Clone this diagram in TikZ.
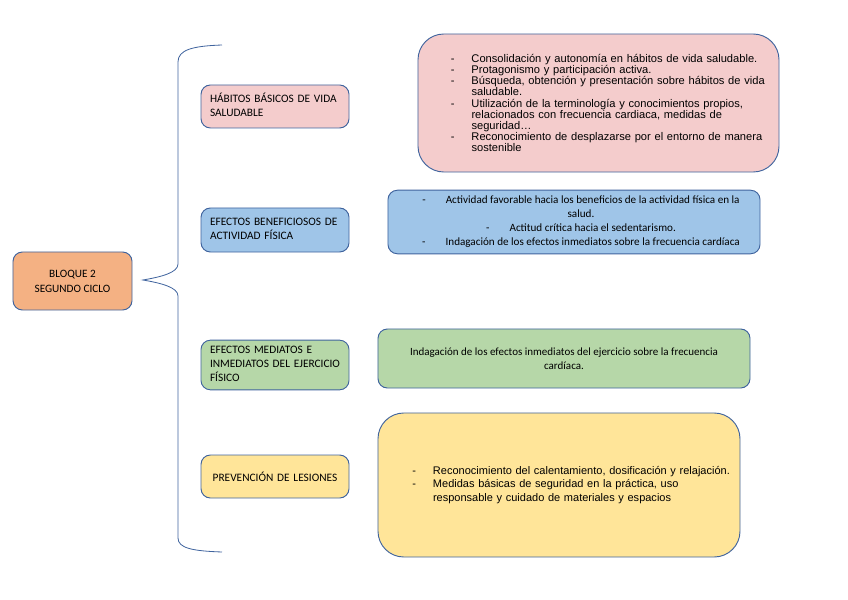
\documentclass[tikz,border=0pt]{standalone}
\usepackage{fontspec}
\setmainfont{Liberation Sans}
\newfontfamily\calibri{Carlito}
\usepackage{xcolor}
\usetikzlibrary{calc}
\definecolor{borde}{HTML}{40649E}
\definecolor{rosa}{HTML}{F4CCCC}
\definecolor{naranja}{HTML}{F4B183}
\definecolor{azul}{HTML}{9FC5E8}
\definecolor{verde}{HTML}{B6D7A8}
\definecolor{amarillo}{HTML}{FFE599}
\newcommand{\guion}{\makebox[0.62cm][l]{-}}
\newcommand{\sangria}{\makebox[0.62cm]{}}
\tikzset{
  caja/.style={draw=borde,line width=0.8pt,rounded corners=8pt},
  titulo/.style={caja,minimum width=4.44cm,align=left,text width=3.9cm,
    font=\calibri\fontsize{9.7}{11.9}\selectfont},
  lista/.style={caja,rounded corners=22pt,align=left,text width=10.5cm},
  llave/.style={draw=borde,line width=0.7pt}
}
\begin{document}
\begin{tikzpicture}[x=0.03cm,y=-0.03cm]
\useasboundingbox (0,0) rectangle (848,600);
% bloque principal
\node (bloque) at (72.5,281) [caja,fill=naranja,minimum width=3.57cm,minimum height=1.74cm,
  align=center,font=\calibri\fontsize{9.6}{12.8}\selectfont]{BLOQUE 2\\SEGUNDO CICLO};
% llave
\coordinate (punta) at (143,280);
\draw[llave] (222,45) .. controls (192,46) and (178,50) .. (178,62) -- (178,264)
  .. controls (178,273) and (160,277) .. (punta)
  .. controls (160,283) and (178,287) .. (178,296) -- (178,538)
  .. controls (178,548) and (192,551) .. (222,552);
% titulos
\node (habitos) at (275,106.5) [titulo,fill=rosa,minimum height=1.29cm]{\begin{tabular}{@{}l@{}}
H\'ABITOS B\'ASICOS DE VIDA\\SALUDABLE\end{tabular}};
\node (benef) at (275,230) [titulo,fill=azul,minimum height=1.32cm]{\begin{tabular}{@{}l@{}}
EFECTOS BENEFICIOSOS DE\\ACTIVIDAD F\'ISICA\end{tabular}};
\node (mediatos) at (275,365) [titulo,fill=verde,minimum height=1.44cm]{\begin{tabular}{@{}l@{}}
EFECTOS MEDIATOS E\\INMEDIATOS DEL EJERCICIO\\F\'ISICO\end{tabular}};
\node (lesiones) at (275,476.5) [titulo,fill=amarillo,minimum height=1.29cm,align=center]{PREVENCI\'ON DE LESIONES};
% contenidos
\node (cont1) at (598.5,103) [lista,fill=rosa,minimum width=10.83cm,minimum height=4.14cm,
  font=\fontsize{9.5}{9.45}\selectfont]{\lineskiplimit=-10pt\leftskip=0.82cm
\guion Consolidaci\'on y autonom\'ia en h\'abitos de vida saludable.\\
\guion Protagonismo y participaci\'on activa.\\
\guion B\'usqueda, obtenci\'on y presentaci\'on sobre h\'abitos de vida\\
\sangria saludable.\\
\guion Utilizaci\'on de la terminolog\'ia y conocimientos propios,\\
\sangria relacionados con frecuencia cardiaca, medidas de\\
\sangria seguridad\ldots\\
\guion Reconocimiento de desplazarse por el entorno de manera\\
\sangria sostenible\par};
\node (cont2) at (574,222) [caja,fill=azul,minimum width=11.16cm,minimum height=1.74cm,
  font=\calibri\fontsize{9.5}{11.9}\selectfont]{\raisebox{-0.06cm}{\begin{tabular}{@{\hspace{0.42cm}}c@{}}
-\hspace{0.6cm}Actividad favorable hacia los beneficios de la actividad f\'isica en la\\
salud.\\
-\hspace{0.6cm}Actitud cr\'itica hacia el sedentarismo.\\
-\hspace{0.6cm}Indagaci\'on de los efectos inmediatos sobre la frecuencia card\'iaca
\end{tabular}}};
\node (cont3) at (564,358.5) [caja,fill=verde,minimum width=11.16cm,minimum height=1.77cm,align=center,
  font=\calibri\fontsize{9.4}{11.9}\selectfont]{Indagaci\'on de los efectos inmediatos del ejercicio sobre la frecuencia\\card\'iaca.};
\node (cont4) at (559,485) [lista,fill=amarillo,minimum width=10.86cm,minimum height=4.32cm,
  font=\fontsize{9.4}{11.5}\selectfont]{\lineskiplimit=-10pt\leftskip=0.85cm
\guion Reconocimiento del calentamiento, dosificaci\'on y relajaci\'on.\\
\guion Medidas b\'asicas de seguridad en la pr\'actica, uso\\
\sangria responsable y cuidado de materiales y espacios\par};
\end{tikzpicture}
\end{document}
